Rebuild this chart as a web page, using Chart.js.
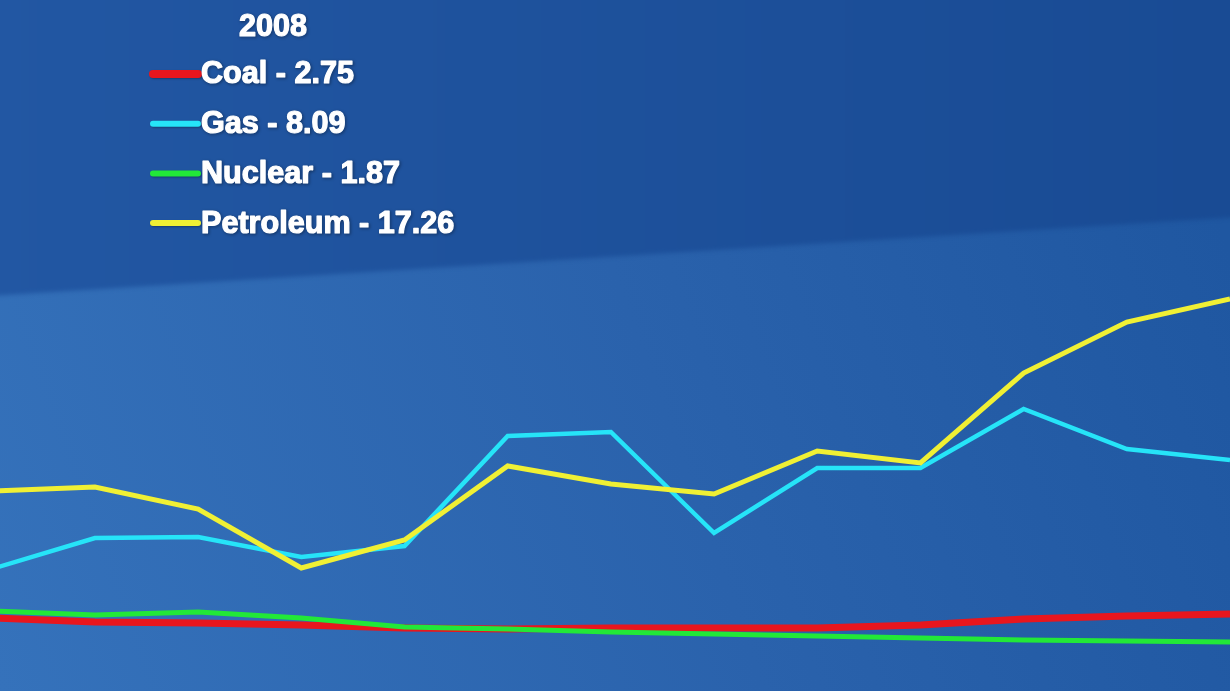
<!DOCTYPE html>
<html>
<head>
<meta charset="utf-8">
<script src="https://cdn.jsdelivr.net/npm/chart.js@4"></script>
<style>
  html, body { margin: 0; padding: 0; background: #1f56a0; overflow: hidden; }
  #energy { display: block; }
</style>
</head>
<body>
<canvas id="energy" width="1230" height="691"></canvas>
<script>
// years on the x axis (1996 runs slightly off the left edge)
const years = [1996, 1997, 1998, 1999, 2000, 2001, 2002, 2003, 2004, 2005, 2006, 2007, 2008];

// series values
const coal      = [3.65, 3.45, 3.4, 3.3, 3.15, 3.1, 3.15, 3.15, 3.15, 3.3, 3.6, 3.75, 3.85];
const gas       = [6.1, 7.65, 7.7, 6.7, 7.25, 12.75, 12.95, 7.9, 11.15, 11.15, 14.1, 12.1, 11.55];
const nuclear   = [4.0, 3.8, 3.95, 3.65, 3.2, 3.1, 2.95, 2.85, 2.75, 2.65, 2.55, 2.5, 2.45];
const petroleum = [10.0, 10.2, 9.1, 6.15, 7.55, 11.25, 10.35, 9.85, 12.0, 11.4, 15.9, 18.45, 19.6];

// legend text
const legendTitle = '2008';
const seriesNames = ['Coal', 'Gas', 'Nuclear', 'Petroleum'];
const legendValues = ['2.75', '8.09', '1.87', '17.26'];

const pts = arr => arr.map((v, i) => ({ x: years[i], y: v }));

// background: lighter bottom-left, darker top band
const bgPlugin = {
  id: 'bg',
  beforeDraw(chart) {
    const c = chart.ctx, w = chart.width, h = chart.height;
    c.save();
    let g = c.createLinearGradient(0, h, w, 250);
    g.addColorStop(0, '#3572bb');
    g.addColorStop(0.55, '#2a62ac');
    g.addColorStop(1, '#1f57a1');
    c.fillStyle = g;
    c.fillRect(0, 0, w, h);
    g = c.createLinearGradient(0, 0, w, 0);
    g.addColorStop(0, '#2257a3');
    g.addColorStop(1, '#194b94');
    c.fillStyle = g;
    c.filter = 'blur(2px)';
    c.beginPath();
    c.moveTo(-10, -10);
    c.lineTo(w + 10, -10);
    c.lineTo(w + 10, 217);
    c.lineTo(-10, 296);
    c.closePath();
    c.fill();
    c.restore();
  }
};

// legend drawn at the top left
const legendPlugin = {
  id: 'legendBox',
  afterDraw(chart) {
    const c = chart.ctx;
    c.save();
    c.font = 'bold 30.6px "Liberation Sans", Arial, sans-serif';
    c.textBaseline = 'middle';
    c.lineJoin = 'round';
    const label = (txt, x, y) => {
      c.shadowColor = 'rgba(0,0,0,0.6)';
      c.shadowBlur = 3;
      c.shadowOffsetX = 1;
      c.shadowOffsetY = 1;
      c.strokeStyle = '#ffffff';
      c.lineWidth = 1.2;
      c.strokeText(txt, x, y);
      c.shadowColor = 'transparent';
      c.fillStyle = '#ffffff';
      c.fillText(txt, x, y);
    };
    c.textAlign = 'center';
    label(legendTitle, 273, 28);
    c.textAlign = 'left';
    const byName = {};
    chart.data.datasets.forEach(ds => { byName[ds.label] = ds; });
    seriesNames.forEach((name, i) => {
      const y = 74 + i * 49.7;
      const ds = byName[name];
      c.shadowColor = 'rgba(0,0,0,0.3)';
      c.shadowBlur = 2;
      c.strokeStyle = ds.borderColor;
      c.lineWidth = name === 'Coal' ? 8 : 6;
      c.lineCap = 'round';
      c.beginPath();
      c.moveTo(153, y);
      c.lineTo(198, y);
      c.stroke();
      label(name + ' - ' + legendValues[i], 201, y + 1);
    });
    c.restore();
  }
};

new Chart(document.getElementById('energy').getContext('2d'), {
  type: 'line',
  data: {
    datasets: [
      { label: 'Coal', data: pts(coal), borderColor: 'rgb(232,22,30)', borderWidth: 7, order: 4 },
      { label: 'Gas', data: pts(gas), borderColor: 'rgb(38,228,248)', borderWidth: 4.5, order: 2 },
      { label: 'Nuclear', data: pts(nuclear), borderColor: 'rgb(34,232,56)', borderWidth: 5, order: 3 },
      { label: 'Petroleum', data: pts(petroleum), borderColor: 'rgb(240,240,52)', borderWidth: 5, order: 1 }
    ]
  },
  options: {
    responsive: false,
    animation: false,
    layout: { padding: 0 },
    elements: {
      point: { radius: 0 },
      line: { tension: 0, borderJoinStyle: 'miter', fill: false }
    },
    scales: {
      x: { type: 'linear', min: 1996.08, max: 2008, display: false },
      y: { min: 0, max: 34.55, display: false }
    },
    plugins: {
      legend: { display: false },
      tooltip: { enabled: false }
    }
  },
  plugins: [bgPlugin, legendPlugin]
});
</script>
</body>
</html>
